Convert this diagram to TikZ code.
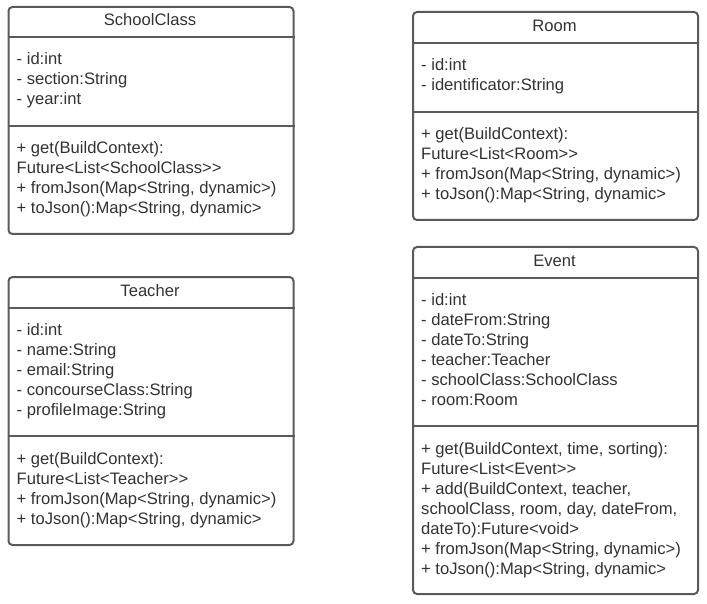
\documentclass[tikz,border=0pt]{standalone}
\usepackage{fontspec}
\setmainfont{Liberation Sans}[Ligatures=TeXOff]
\definecolor{edge}{HTML}{5A5A5A}
\definecolor{ink}{HTML}{333333}
\tikzset{
  x=1pt, y=-1pt,
  classbox/.style={draw=edge, line width=2pt, rounded corners=4pt, fill=white, inner sep=0pt, anchor=north west},
  divider/.style={draw=edge, line width=2pt},
  txt/.style={anchor=base west, inner sep=0pt, text=ink, font=\fontsize{16.6}{20}\selectfont},
  ttl/.style={anchor=base, inner sep=0pt, text=ink, font=\fontsize{16.6}{20}\selectfont},
}
\newcommand\classlines[4]{%
  \foreach \t [count=\i from 0] in {#4} {\node[txt] (#1\i) at ({#2},{#3+20*\i}) {\t};}}
\begin{document}
\begin{tikzpicture}
\useasboundingbox (0,0) rectangle (707,604);
% SchoolClass
\node[classbox, minimum width=285pt, minimum height=227pt] (sc) at (7.5,6) {};
\draw[divider] (sc.west |- 0,37.5) -- (sc.east |- 0,37.5);
\draw[divider] (sc.west |- 0,126) -- (sc.east |- 0,126);
\node[ttl] (sct) at (150,26) {SchoolClass};
\classlines{sca}{16.5}{65}{{- id:int},{- section:String},{- year:int}}
\classlines{scm}{16.5}{154}{{+ get(BuildContext):},{Future<List<SchoolClass>>},{+ fromJson(Map<String, dynamic>)},{+ toJson():Map<String, dynamic>}}
% Room
\node[classbox, minimum width=285pt, minimum height=208pt] (rm) at (412,11) {};
\draw[divider] (rm.west |- 0,43) -- (rm.east |- 0,43);
\draw[divider] (rm.west |- 0,112) -- (rm.east |- 0,112);
\node[ttl] (rmt) at (554.5,31.5) {Room};
\classlines{rma}{421}{70.5}{{- id:int},{- identificator:String}}
\classlines{rmm}{421}{140}{{+ get(BuildContext):},{Future<List<Room>>},{+ fromJson(Map<String, dynamic>)},{+ toJson():Map<String, dynamic>}}
% Teacher
\node[classbox, minimum width=285pt, minimum height=268pt] (tc) at (7.5,276) {};
\draw[divider] (tc.west |- 0,307.5) -- (tc.east |- 0,307.5);
\draw[divider] (tc.west |- 0,436) -- (tc.east |- 0,436);
\node[ttl] (tct) at (150,296) {Teacher};
\classlines{tca}{16.5}{335}{{- id:int},{- name:String},{- email:String},{- concourseClass:String},{- profileImage:String}}
\classlines{tcm}{16.5}{464}{{+ get(BuildContext):},{Future<List<Teacher>>},{+ fromJson(Map<String, dynamic>)},{+ toJson():Map<String, dynamic>}}
% Event
\node[classbox, minimum width=285pt, minimum height=347pt] (ev) at (412,246) {};
\draw[divider] (ev.west |- 0,278) -- (ev.east |- 0,278);
\draw[divider] (ev.west |- 0,426) -- (ev.east |- 0,426);
\node[ttl] (evt) at (554.5,266) {Event};
\classlines{eva}{421}{305.5}{{- id:int},{- dateFrom:String},{- dateTo:String},{- teacher:Teacher},{- schoolClass:SchoolClass},{- room:Room}}
\classlines{evm}{421}{454}{{+ get(BuildContext, time, sorting):},{Future<List<Event>>},{+ add(BuildContext, teacher,},{schoolClass, room, day, dateFrom,},{dateTo):Future<void>},{+ fromJson(Map<String, dynamic>)},{+ toJson():Map<String, dynamic>}}
\end{tikzpicture}
\end{document}
